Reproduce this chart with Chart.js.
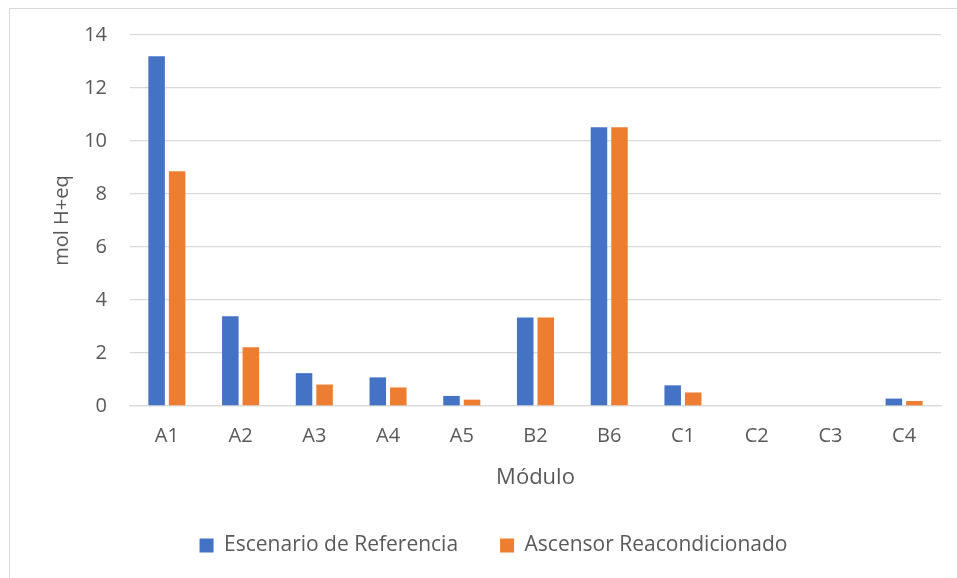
<!DOCTYPE html>
<html>
<head>
<meta charset="utf-8">
<script src="https://cdn.jsdelivr.net/npm/chart.js@4.4.1/dist/chart.umd.min.js"></script>
<style>
  html, body { margin: 0; padding: 0; background: #fff; overflow: hidden; }
  #frame { position: absolute; left: 9px; top: 8px; width: 1000px; height: 620px; border: 1px solid #d9d9d9; box-sizing: border-box; }
  #wrap { position: absolute; left: 0; top: 0; width: 957px; height: 578px; }
</style>
</head>
<body>
<div id="frame"></div>
<div id="wrap"><canvas id="c" width="957" height="578"></canvas></div>
<script>
const categories = ["A1", "A2", "A3", "A4", "A5", "B2", "B6", "C1", "C2", "C3", "C4"];
const seriesNames = ["Escenario de Referencia", "Ascensor Reacondicionado"];
const escenarioReferencia = [13.2, 3.39, 1.24, 1.08, 0.38, 3.34, 10.52, 0.78, 0, 0, 0.28];
const ascensorReacondicionado = [8.86, 2.22, 0.81, 0.70, 0.24, 3.34, 10.52, 0.51, 0, 0, 0.19];
const yTicks = [0, 2, 4, 6, 8, 10, 12, 14];

const FONT = "'Open Sans', 'Liberation Sans', sans-serif";
const TXT = "#595959";
const GRID = "#d9d9d9";

const chart = new Chart(document.getElementById('c'), {
  type: 'bar',
  data: {
    labels: categories,
    datasets: [
      { label: seriesNames[0], data: escenarioReferencia, backgroundColor: '#4472C4', borderWidth: 0,
        categoryPercentage: 0.557, barPercentage: 0.805 },
      { label: seriesNames[1], data: ascensorReacondicionado, backgroundColor: '#ED7D31', borderWidth: 0,
        categoryPercentage: 0.557, barPercentage: 0.805 }
    ]
  },
  options: {
    responsive: false,
    animation: false,
    devicePixelRatio: 1,
    layout: { padding: { left: 46, right: 16, top: 29, bottom: 12 } },
    plugins: {
      tooltip: { enabled: false },
      legend: {
        position: 'bottom',
        labels: {
          font: { family: FONT, size: 21 },
          color: TXT,
          boxWidth: 14,
          boxHeight: 14,
          padding: 42
        }
      }
    },
    scales: {
      x: {
        grid: { display: false, drawTicks: false },
        border: { display: true, color: GRID, width: 1.3 },
        ticks: { font: { family: FONT, size: 20 }, color: TXT, padding: 18 },
        title: { display: true, text: 'Módulo', font: { family: FONT, size: 22 }, color: TXT, padding: { top: 2, bottom: 2 } },
        afterFit: (s) => { s.height = 87; }
      },
      y: {
        min: 0, max: 14,
        afterBuildTicks: (s) => { s.ticks = yTicks.map(v => ({ value: v })); },
        grid: { color: GRID, lineWidth: 1.3, drawTicks: false },
        border: { display: false },
        ticks: { font: { family: FONT, size: 20 }, color: TXT, padding: 23 },
        title: { display: true, text: 'mol H+eq', font: { family: FONT, size: 20 }, color: TXT, padding: { top: 4, bottom: 0 } },
        afterFit: (s) => { s.width = 84; }
      }
    }
  }
});
</script>
</body>
</html>
